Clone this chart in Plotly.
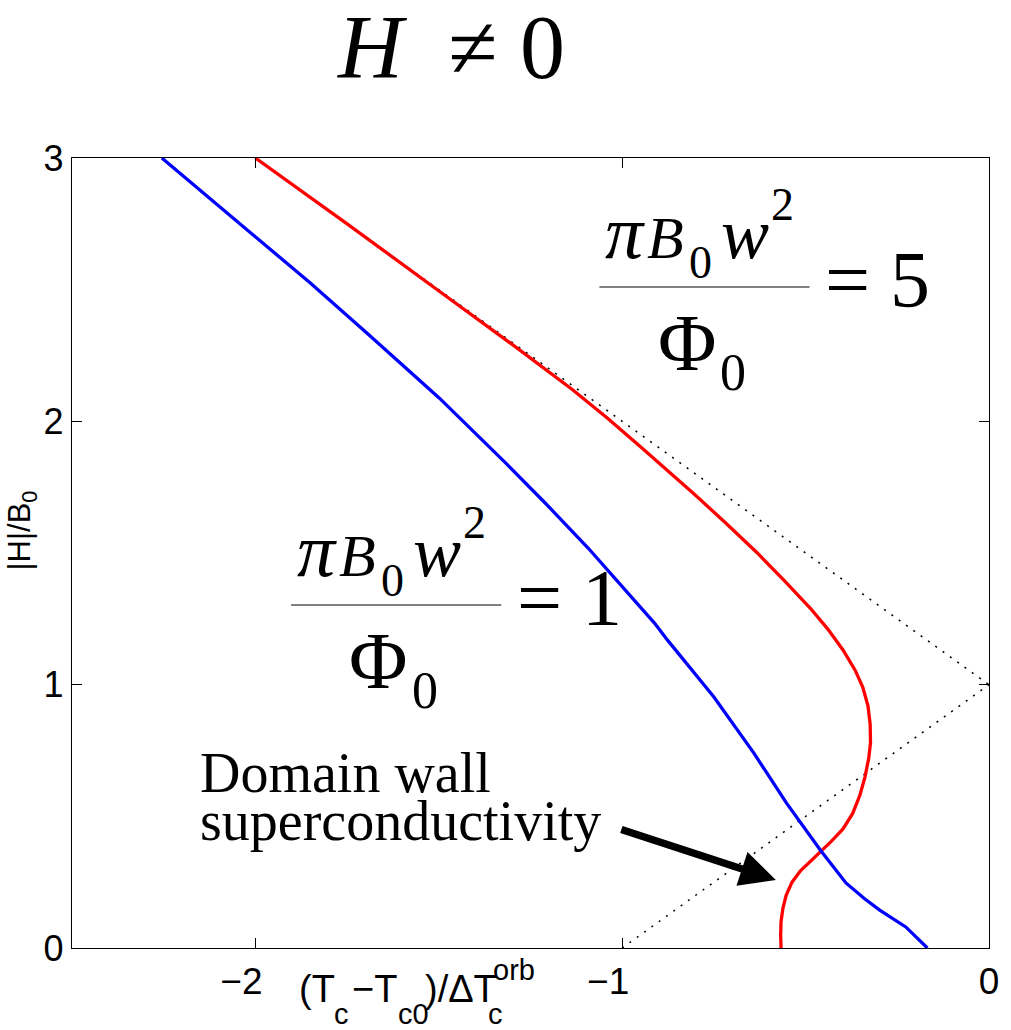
import plotly.graph_objects as go

# ---- data ----
red_x = [-2.0, -1.75, -1.48, -1.30, -1.137, -1.04, -0.947, -0.87, -0.804, -0.72,
         -0.633, -0.56, -0.487, -0.44, -0.398, -0.365, -0.344, -0.330, -0.324,
         -0.323, -0.328, -0.338, -0.352, -0.372, -0.398, -0.43, -0.46, -0.49,
         -0.514, -0.537, -0.553, -0.562, -0.567, -0.568, -0.567]
red_y = [3.0, 2.75, 2.475, 2.292, 2.122, 2.012, 1.900, 1.806, 1.724, 1.617,
         1.502, 1.398, 1.290, 1.212, 1.132, 1.055, 0.99, 0.92, 0.85,
         0.78, 0.72, 0.65, 0.58, 0.51, 0.452, 0.405, 0.365, 0.327,
         0.293, 0.25, 0.20, 0.15, 0.10, 0.05, 0.0]

blue_x = [-2.255, -2.022, -1.851, -1.697, -1.615, -1.499, -1.318, -1.210, -1.093,
          -1.047, -0.912, -0.877, -0.750, -0.641, -0.552, -0.46, -0.39, -0.34,
          -0.298, -0.227, -0.168]
blue_y = [3.0, 2.727, 2.526, 2.336, 2.233, 2.089, 1.842, 1.690, 1.519,
          1.447, 1.234, 1.17, 0.953, 0.74, 0.55, 0.372, 0.247, 0.188,
          0.144, 0.08, 0.0]

guide1_x = [-2.0, 0.0]   # |H| = 1 - x
guide1_y = [3.0, 1.0]
guide2_x = [-1.0, 0.0]   # |H| = 1 + x
guide2_y = [0.0, 1.0]

x_ticks = [-2, -1, 0]
x_tick_text = ["−2", "−1", "0"]
y_ticks = [0, 1, 2, 3]
y_tick_text = ["0", "1", "2", "3"]

# ---- layout geometry (page pixels) ----
W, H = 1011, 1030
L, R, T, B = 72, 997, 158, 948          # plot area on the page

def PX(px):
    return (px - L) / (R - L)

def PY(py):
    return (B - py) / (B - T)

SERIF = "Liberation Serif"
SANS = "Liberation Sans"

fig = go.Figure()
for gx, gy in ((guide1_x, guide1_y), (guide2_x, guide2_y)):
    fig.add_trace(go.Scatter(x=gx, y=gy, mode="lines",
                             line=dict(color="black", width=1.5, dash="2px,7px"),
                             showlegend=False, hoverinfo="skip"))
fig.add_trace(go.Scatter(x=red_x, y=red_y, mode="lines",
                         line=dict(color="#ff0000", width=3.3),
                         showlegend=False))
fig.add_trace(go.Scatter(x=blue_x, y=blue_y, mode="lines",
                         line=dict(color="#0000ff", width=3.3),
                         showlegend=False))

ann = []
ASC = {SERIF: 0.3375, SANS: 0.3465}   # baseline -> box centre, in em


def txt(s, x, base, size, font=SERIF, xanchor="center", angle=0):
    """place text with its baseline at page pixel `base`"""
    ann.append(dict(x=PX(x), y=PY(base - ASC[font] * size), xref="paper", yref="paper",
                    text=s, showarrow=False, xanchor=xanchor, yanchor="middle",
                    textangle=angle, borderpad=0,
                    font=dict(family=font, size=size, color="black")))


def fraction(dx, dy, rhs):
    # numerator  pi B_0 w^2
    txt("<i>π</i>", 630 + dx, 258 + dy, 76)
    txt("<i>B</i>", 671 + dx, 258 + dy, 60)
    txt("0", 706 + dx, 278 + dy, 46)
    txt("<i>w</i>", 751 + dx, 258 + dy, 72)
    txt("2", 789 + dx, 220 + dy, 46)
    # bar
    fig.add_shape(type="line", xref="paper", yref="paper",
                  x0=PX(604 + dx), x1=PX(816 + dx), y0=PY(287 + dy), y1=PY(287 + dy),
                  line=dict(color="#555555", width=1.5))
    # denominator  Phi_0
    txt("Φ", 692 + dx, 370 + dy, 80)
    txt("0", 739 + dx, 390 + dy, 52)
    # right-hand side
    txt("= " + rhs, 885 + dx, 307 + dy, 80)


# title
txt("<i>H</i>  ≠ 0", 454, 78, 90)

fraction(0, 0, "5")
fraction(-311, 318, "1")

# domain wall text
txt("Domain wall", 200, 792, 56, xanchor="left")
txt("superconductivity", 200, 840, 56, xanchor="left")

# arrow
ann.append(dict(x=PX(782), y=PY(880), ax=626 - 782, ay=829 - 880,
                xref="paper", yref="paper", axref="pixel", ayref="pixel",
                showarrow=True, arrowhead=2, arrowwidth=7.5, arrowsize=0.95,
                arrowcolor="black", text="", standoff=0))

# x-axis label  (T_c - T_c0)/ΔT_c^orb
txt("(T", 300, 1002, 38, font=SANS, xanchor="left")
txt("c", 335, 1024, 29, font=SANS, xanchor="left")
txt("−T", 353, 1002, 38, font=SANS, xanchor="left")
txt("c0", 400, 1024, 29, font=SANS, xanchor="left")
txt(")/ΔT", 427, 1002, 38, font=SANS, xanchor="left")
txt("orb", 496, 980, 29, font=SANS, xanchor="left")
txt("c", 491, 1024, 29, font=SANS, xanchor="left")

# y-axis label
ann.append(dict(x=PX(22), y=PY(530), xref="paper", yref="paper",
                text="|H|/B<sub>0</sub>", showarrow=False, textangle=-90,
                xanchor="center", yanchor="middle",
                font=dict(family=SANS, size=31, color="black")))

pad = "\u2007\u2009"
fig.update_layout(
    width=W, height=H,
    margin=dict(l=L, r=W - R, t=T, b=H - B),
    paper_bgcolor="white", plot_bgcolor="white",
    annotations=ann,
    xaxis=dict(range=[-2.5, 0], tickvals=x_ticks,
               ticktext=[t + pad if t.startswith("−") else t for t in x_tick_text],
               ticks="inside", ticklen=10,
               tickcolor="black", mirror="ticks", showline=True, linecolor="black",
               linewidth=1.3, showgrid=False, zeroline=False,
               tickfont=dict(family=SANS, size=37, color="black")),
    yaxis=dict(range=[0, 3], tickvals=y_ticks, ticktext=y_tick_text,
               ticks="inside", ticklen=10,
               tickcolor="black", mirror="ticks", showline=True, linecolor="black",
               linewidth=1.3, showgrid=False, zeroline=False,
               tickfont=dict(family=SANS, size=36, color="black")),
)

fig.write_html("out.html",
               config={"displayModeBar": False},
               post_script="document.body.style.margin='0';"
                           "document.body.style.overflow='hidden';")
